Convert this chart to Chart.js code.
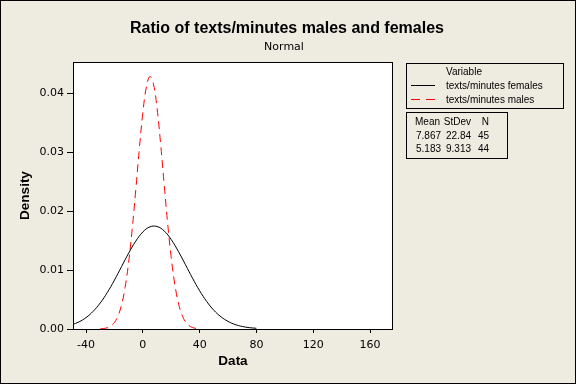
<!DOCTYPE html>
<html>
<head>
<meta charset="utf-8">
<script src="https://cdn.jsdelivr.net/npm/chart.js@4.4.1/dist/chart.umd.min.js"></script>
<style>
  html, body { margin: 0; padding: 0; background: #EEEBE0; }
  canvas { display: block; }
</style>
</head>
<body>
<canvas id="chart" width="576" height="384"></canvas>
<script>
// Density values
const femaleX = [-50, -45, -40, -35, -30, -25, -20, -15, -10, -5, 0, 5, 10, 15, 20, 25, 30, 35, 40, 45, 50, 55, 60, 65, 70, 75, 80];
const femaleY = [0.00071, 0.00120, 0.00194, 0.00300, 0.00442, 0.00620, 0.00830, 0.01059, 0.01287, 0.01490, 0.01646, 0.01733, 0.01739, 0.01664, 0.01517, 0.01318, 0.01092, 0.00862, 0.00649, 0.00466, 0.00318, 0.00208, 0.00129, 0.00076, 0.00043, 0.00023, 0.00012];

const maleX = [-30, -27.5, -25, -22.5, -20, -17.5, -15, -12.5, -10, -7.5, -5, -2.5, 0, 2.5, 5, 7.5, 10, 12.5, 15, 17.5, 20, 22.5, 25, 27.5, 30, 32.5, 35, 37.5, 40];
const maleY = [0.00003, 0.00009, 0.00022, 0.00052, 0.00111, 0.00221, 0.00409, 0.00706, 0.01134, 0.01695, 0.02356, 0.03049, 0.03669, 0.04110, 0.04284, 0.04153, 0.03748, 0.03147, 0.02458, 0.01786, 0.01208, 0.00760, 0.00445, 0.00243, 0.00123, 0.00058, 0.00025, 0.00010, 0.00004];

const xTicks = [-40, 0, 40, 80, 120, 160];
const yTicks = [0, 0.01, 0.02, 0.03, 0.04];

const seriesNames = ['texts/minutes females', 'texts/minutes males'];
const statHeader = ['Mean', 'StDev', 'N'];
const statRows = [
    ['7.867', '22.84', '45'],
    ['5.183', '9.313', '44']
];

const BG = '#EEEBE0';

function toPoints(xs, ys) {
    return xs.map((x, i) => ({ x: x, y: ys[i] }));
}

// Minitab style frame, titles and legend boxes
const decor = {
    id: 'decor',
    beforeDraw(chart) {
        const { ctx, chartArea: a } = chart;
        ctx.save();
        ctx.fillStyle = BG;
        ctx.fillRect(0, 0, chart.width, chart.height);
        ctx.fillStyle = '#fff';
        ctx.fillRect(a.left, a.top, a.right - a.left, a.bottom - a.top);
        ctx.restore();
    },
    afterDraw(chart) {
        const { ctx, chartArea: a } = chart;
        ctx.save();
        ctx.strokeStyle = '#000';
        ctx.lineWidth = 1;
        // plot box
        ctx.strokeRect(a.left + 0.5, a.top + 0.5, a.right - a.left - 1, a.bottom - a.top);
        // outer border
        ctx.strokeRect(0.5, 0.5, chart.width - 1, chart.height - 1);

        // titles
        ctx.fillStyle = '#000';
        ctx.textAlign = 'center';
        ctx.textBaseline = 'alphabetic';
        ctx.font = 'bold 16px "Liberation Sans", Arial, sans-serif';
        ctx.fillText('Ratio of texts/minutes males and females', 287, 33);
        ctx.font = '11px "DejaVu Sans", sans-serif';
        ctx.fillText('Normal', 284, 50);

        // legend box
        ctx.strokeRect(406.5, 63.5, 157, 45);
        ctx.font = '10px "Liberation Sans", Arial, sans-serif';
        ctx.textAlign = 'left';
        ctx.fillText('Variable', 446, 75);
        ctx.fillText(seriesNames[0], 446, 89);
        ctx.fillText(seriesNames[1], 446, 103);
        ctx.beginPath();
        ctx.moveTo(411, 85.5);
        ctx.lineTo(435, 85.5);
        ctx.stroke();
        ctx.strokeStyle = '#f00';
        ctx.setLineDash([9, 6]);
        ctx.beginPath();
        ctx.moveTo(411, 99.5);
        ctx.lineTo(436, 99.5);
        ctx.stroke();
        ctx.setLineDash([]);

        // stats table
        ctx.strokeStyle = '#000';
        ctx.strokeRect(406.5, 112.5, 101, 46);
        ctx.fillText(statHeader[0], 415, 125);
        ctx.textAlign = 'right';
        ctx.fillText(statHeader[1], 471, 125);
        ctx.fillText(statHeader[2], 489, 125);
        statRows.forEach((r, i) => {
            const y = 139 + i * 13;
            ctx.textAlign = 'left';
            ctx.fillText(r[0], 416, y);
            ctx.textAlign = 'right';
            ctx.fillText(r[1], 471, y);
            ctx.fillText(r[2], 489, y);
        });
        ctx.restore();
    }
};

const tickFont = { family: '"DejaVu Sans", sans-serif', size: 11 };
const titleFont = { family: '"Liberation Sans", Arial, sans-serif', size: 13.5, weight: 'bold' };

new Chart(document.getElementById('chart'), {
    type: 'line',
    data: {
        datasets: [{
            label: seriesNames[0],
            data: toPoints(femaleX, femaleY),
            borderColor: '#000',
            borderWidth: 1,
            pointRadius: 0,
            tension: 0.4,
            fill: false
        }, {
            label: seriesNames[1],
            data: toPoints(maleX, maleY),
            borderColor: '#f00',
            borderWidth: 1,
            borderDash: [8, 5],
            pointRadius: 0,
            tension: 0.4,
            fill: false
        }]
    },
    options: {
        responsive: false,
        animation: false,
        events: [],
        layout: { padding: { left: 0, right: 183, top: 62, bottom: 0 } },
        plugins: {
            legend: { display: false },
            tooltip: { enabled: false }
        },
        scales: {
            x: {
                type: 'linear',
                min: -49.2,
                max: 176.2,
                afterBuildTicks: s => { s.ticks = xTicks.map(v => ({ value: v })); },
                afterFit: s => { s.height = 55; },
                border: { display: false },
                grid: { drawOnChartArea: false, drawTicks: true, tickLength: 4, color: '#000' },
                ticks: { color: '#000', font: tickFont, padding: 6, maxRotation: 0 },
                title: { display: true, text: 'Data', color: '#000', font: titleFont, padding: { top: 0, bottom: 15 } }
            },
            y: {
                min: 0,
                max: 0.0453,
                afterBuildTicks: s => { s.ticks = yTicks.map(v => ({ value: v })); },
                afterFit: s => { s.width = 73; },
                border: { display: false },
                grid: { drawOnChartArea: false, drawTicks: true, tickLength: 6, color: '#000' },
                ticks: { color: '#000', font: tickFont, padding: 3, callback: v => v.toFixed(2) },
                title: { display: true, text: 'Density', color: '#000', font: titleFont, padding: { top: 17, bottom: 0 } }
            }
        }
    },
    plugins: [decor]
});
</script>
</body>
</html>
